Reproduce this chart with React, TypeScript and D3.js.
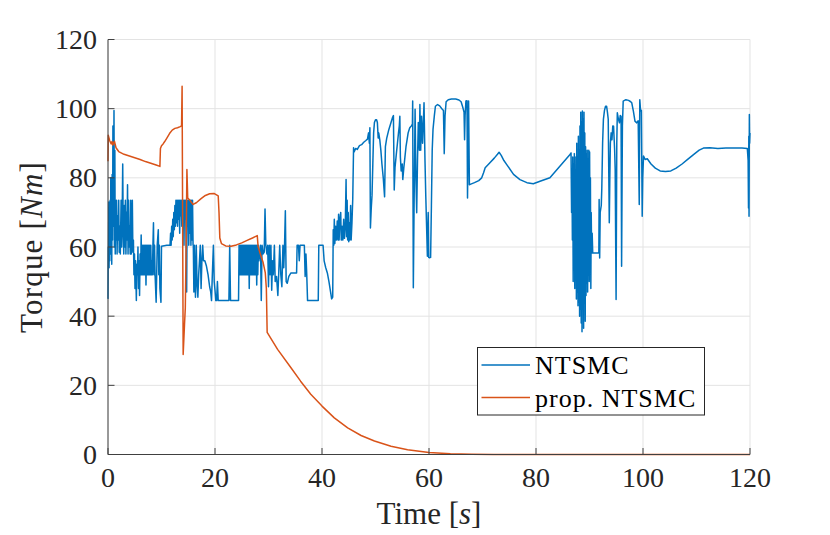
import * as d3 from "d3";
import { useEffect } from "react";

type Pt = [number, number];

// NTSMC torque (time s, torque Nm)
const ntsmc: Pt[] = [
  [0, 45], [0.05, 60], [0.1, 55], [0.15, 73], [0.2, 54], [0.28, 70], [0.33, 56], [0.4, 73.5], [0.45, 58],
  [0.52, 80], [0.58, 60], [0.65, 73.5], [0.7, 55], [0.78, 81], [0.85, 62], [0.92, 95], [0.97, 66],
  [1.05, 73.5], [1.12, 99.5], [1.2, 60], [1.28, 88], [1.35, 58], [1.42, 73.5], [1.5, 62],
  [1.6, 73.5], [1.7, 58], [1.8, 69], [1.9, 62], [2.0, 73.5], [2.1, 58.5], [2.2, 66], [2.3, 58],
  [2.45, 73.5], [2.55, 60], [2.65, 68], [2.75, 84], [2.85, 64], [2.95, 58], [3.05, 72], [3.15, 60],
  [3.25, 73.5], [3.35, 58], [3.45, 70], [3.55, 62], [3.65, 78], [3.75, 58], [3.85, 73.5], [3.95, 60],
  [4.05, 66], [4.15, 58], [4.25, 73.5], [4.35, 58], [4.45, 64], [4.55, 73.5], [4.65, 58.5], [4.75, 62],
  [4.85, 52], [4.95, 58],
  [5.05, 48], [5.15, 56], [5.3, 44.5], [5.4, 55], [5.5, 52], [5.6, 60], [5.7, 48], [5.8, 56], [5.9, 46],
  [6.0, 58], [6.1, 52], [6.2, 63.5], [6.3, 52], [6.4, 60.5], [6.5, 52], [6.6, 60.5], [6.7, 52], [6.8, 60.5],
  [6.9, 52], [7.0, 60.5], [7.1, 49], [7.2, 60.5], [7.3, 52], [7.4, 60.5], [7.5, 52], [7.6, 60.5], [7.7, 52],
  [7.8, 60.5], [7.9, 52], [8.0, 60.5], [8.1, 52], [8.2, 56], [8.3, 52], [8.4, 60.5], [8.5, 67], [8.6, 52],
  [8.7, 60.5], [8.8, 52], [9.0, 44], [9.1, 52], [9.2, 60.5], [9.4, 65], [9.5, 52], [9.6, 60.5], [9.7, 48],
  [9.9, 44], [10.0, 60.2], [11.0, 60.5], [11.6, 60.5],
  [11.7, 64], [11.8, 60.5], [11.9, 66], [12.0, 62], [12.1, 68], [12.2, 63], [12.3, 70], [12.4, 65],
  [12.5, 72], [12.6, 66], [12.7, 73.5], [12.8, 67],
  [12.9, 73.5], [13.0, 66], [13.1, 73.5], [13.2, 68], [13.3, 73.5], [13.4, 64], [13.5, 73.5], [13.6, 69],
  [13.7, 73.5], [13.8, 66], [13.9, 73.5], [14.0, 70], [14.1, 73.5], [14.2, 60.5], [14.3, 73.5], [14.4, 68],
  [14.5, 73.5], [14.6, 62], [14.7, 47], [14.8, 73.5], [14.9, 66], [15.0, 73.5], [15.1, 60.5], [15.2, 73.5],
  [15.3, 64], [15.4, 73.5], [15.5, 60.5], [15.6, 73.5], [15.7, 62], [15.8, 73.5], [15.9, 60.5],
  [15.95, 60.5], [16.05, 47], [16.15, 60.5], [16.25, 52], [16.35, 45.5], [16.5, 60.5], [16.65, 49],
  [16.8, 45.5], [16.95, 52], [17.1, 56], [17.25, 60.5], [17.4, 48], [17.55, 56], [17.7, 60.5], [17.85, 56],
  [18.1, 56], [18.4, 54.5], [18.7, 52], [19.0, 48.5], [19.2, 47], [19.35, 44.5], [19.5, 52], [19.7, 60.5],
  [19.85, 50], [20.0, 47.5], [20.15, 44.5], [20.3, 44.5], [20.45, 50], [20.6, 44.5],
  [22.6, 44.5], [22.75, 60.5], [22.9, 44.5], [24.4, 44.5],
  [24.5, 60.5], [24.6, 52], [24.7, 60.5], [24.8, 52], [24.9, 60.5], [25.0, 52], [25.1, 60.5], [25.2, 52],
  [25.3, 60.5], [25.4, 52], [25.5, 60.5], [25.6, 52], [25.7, 60.5], [25.8, 52], [25.9, 60.5], [26.0, 52],
  [26.1, 60.5], [26.2, 52], [26.3, 60.5], [26.4, 48], [26.5, 60.5], [26.6, 52], [26.7, 60.5], [26.8, 52],
  [26.9, 60.5], [27.0, 52], [27.1, 60.5], [27.2, 52], [27.3, 60.5], [27.4, 52], [27.5, 60.5], [27.6, 52],
  [27.7, 60.5], [27.8, 49], [27.9, 60.5], [28.0, 52], [28.1, 60.5], [28.2, 56],
  [28.35, 58], [28.5, 60.5], [28.65, 44.5], [28.8, 60.5], [29.0, 58], [29.2, 58.5], [29.35, 71],
  [29.5, 60.5], [29.7, 58],
  [29.85, 60.5], [30.0, 48.5], [30.15, 60.5], [30.3, 52], [30.45, 60.5], [30.6, 47.5], [30.75, 56],
  [30.9, 52], [31.1, 60.5], [31.25, 50], [31.5, 51.5], [31.75, 46], [31.9, 52], [32.1, 60.5], [32.3, 52],
  [32.5, 48.5], [32.7, 60.5], [32.85, 54], [33.0, 60.5], [33.15, 70.5], [33.3, 50], [33.5, 49.5],
  [33.8, 51.5], [34.2, 52.5], [34.8, 52.5], [35.25, 52.5], [35.35, 60.5], [35.6, 60.5], [35.75, 56],
  [35.9, 60.5], [36.7, 60.5], [36.85, 51.5], [37.0, 58], [37.15, 52], [37.3, 44.5], [39.3, 44.5],
  [39.4, 60.5], [40.2, 60.5], [40.4, 56], [40.7, 54], [41.0, 52.5], [41.3, 50], [41.6, 47], [41.8, 45],
  [42.0, 45.5], [42.1, 65], [42.2, 60.5], [42.3, 68], [42.4, 61], [42.55, 66], [42.7, 62], [42.85, 67.5],
  [43.0, 62], [43.1, 69.5], [43.2, 62], [43.35, 68], [43.5, 70], [43.6, 62], [43.75, 66], [43.9, 62],
  [44.05, 68], [44.2, 62.5], [44.35, 66], [44.5, 79.5], [44.6, 63], [44.7, 73.5], [44.8, 62], [44.9, 70],
  [45.0, 61.5], [45.1, 67], [45.2, 62], [45.35, 72], [45.45, 62], [45.6, 67], [45.75, 74], [45.9, 88.7],
  [46.0, 87.5], [46.3, 88.5], [46.6, 88.2], [47.0, 89.3], [47.4, 89.6], [47.8, 90.3], [48.2, 90.8],
  [48.5, 91.2], [48.7, 93], [48.85, 90], [48.95, 94.5], [49.05, 65.5], [49.2, 71], [49.35, 75], [49.5, 84],
  [49.65, 93], [49.8, 96], [50.0, 96.8], [50.2, 96.8], [50.35, 96], [50.5, 91.5], [50.6, 93], [50.8, 91],
  [51.0, 88], [51.2, 84], [51.45, 80], [51.7, 74.5], [51.85, 89], [52.1, 91.5], [52.5, 94], [52.9, 96],
  [53.2, 97.5], [53.35, 98], [53.5, 76.5], [53.65, 83], [53.9, 87], [54.1, 90], [54.3, 93], [54.45, 95],
  [54.55, 97.8], [54.65, 86], [54.8, 82], [55.0, 84], [55.1, 79.5], [55.3, 83], [55.5, 86], [55.7, 89],
  [55.9, 91], [56.1, 93], [56.4, 94.5], [56.7, 95], [56.9, 95.5],
  [56.95, 102.2], [57.07, 48.2], [57.2, 70], [57.4, 99.8], [57.55, 80], [57.7, 69.9], [57.85, 85],
  [58.0, 96], [58.2, 88], [58.3, 101.2], [58.45, 88], [58.6, 97.8], [58.8, 90], [59.07, 101.7],
  [59.25, 85], [59.4, 74.7], [59.55, 66], [59.7, 57.3], [59.85, 70], [59.95, 57], [60.1, 56.9],
  [60.3, 57], [60.45, 72], [60.6, 88], [60.75, 94], [61.0, 98], [61.2, 100.7], [61.6, 101.2],
  [62.0, 100.8], [62.4, 100], [62.7, 99.5], [62.85, 87], [63.0, 98], [63.2, 102], [63.6, 102.6],
  [64.2, 102.8], [65.0, 102.8], [65.6, 102.5], [66.0, 102], [66.3, 100.5], [66.55, 99], [66.65, 91],
  [66.75, 98], [66.9, 102.2], [67.1, 102.3], [67.2, 74.2], [67.3, 90], [67.4, 102.2], [67.55, 78],
  [67.7, 78.1], [68.5, 78.6], [69.3, 79.2], [69.85, 80], [70.2, 81.5], [70.5, 82.9], [71.3, 84.2],
  [72.2, 85.7], [72.8, 86.8], [73.1, 87.4], [73.5, 86.5], [74.0, 85.0], [74.5, 83.9], [75.8, 81.0],
  [77.0, 79.5], [78.3, 78.6], [79.5, 78.3], [80.75, 79.0], [82.6, 80.0], [84.5, 83.4], [86.4, 86.8],
  [86.55, 87.2], [86.65, 70], [86.72, 82], [86.8, 62], [86.87, 86], [86.95, 50], [87.02, 84], [87.1, 55],
  [87.17, 87], [87.25, 48], [87.32, 80], [87.4, 52], [87.47, 86], [87.55, 45], [87.62, 90], [87.7, 47],
  [87.77, 84], [87.85, 43], [87.92, 92], [88.0, 44], [88.07, 88], [88.15, 40], [88.22, 95], [88.3, 42],
  [88.37, 99], [88.45, 38], [88.52, 96], [88.6, 35.5], [88.67, 99.3], [88.75, 42], [88.82, 97],
  [88.9, 36.5], [88.97, 99], [89.05, 44], [89.12, 93], [89.2, 38.5], [89.27, 89], [89.35, 46], [89.42, 87],
  [89.5, 49.5], [89.57, 88], [89.65, 47], [89.72, 85], [89.8, 52], [89.87, 88], [89.95, 50], [90.02, 87.5],
  [90.1, 57], [90.17, 80], [90.25, 48], [90.32, 70], [90.4, 58.3], [90.5, 64], [90.6, 58.3], [90.7, 58.3],
  [91.0, 58.3], [91.5, 58.3], [91.75, 58.3],
  [91.8, 73.7], [91.9, 56.8], [92.0, 70], [92.2, 72], [92.3, 77], [92.45, 90], [92.6, 96.9], [92.8, 99.5],
  [93.0, 100.7], [93.2, 100.7], [93.35, 99], [93.5, 97], [93.7, 67], [93.8, 80], [93.9, 90], [94.05, 93],
  [94.2, 91], [94.35, 95], [94.5, 94.9], [94.7, 88], [94.8, 82.4], [94.97, 44.8], [95.1, 90], [95.2, 98.8],
  [95.4, 97], [95.6, 95.9], [95.75, 98], [95.9, 97.8], [96.0, 54.4], [96.15, 95], [96.3, 102.2],
  [96.8, 102.6], [97.3, 102.4], [97.7, 102], [97.9, 101.7], [98.2, 99.3], [98.5, 96.4], [98.8, 95.9],
  [99.1, 96.5], [99.3, 72.3], [99.4, 102.6], [99.55, 99.3], [99.7, 99.5], [99.85, 68.9], [99.95, 80],
  [100.1, 86.3], [100.4, 85.3],
  [100.8, 85.5], [101.5, 84.0], [102.3, 82.8], [103.2, 82.0], [104.2, 81.8], [105.2, 82.0], [106.2, 82.8],
  [107.3, 84.0], [108.4, 85.4], [109.5, 86.8], [110.5, 88.0], [111.3, 88.6], [112.5, 88.7], [114.0, 88.5],
  [115.5, 88.6], [117.0, 88.6], [118.5, 88.6], [119.5, 88.5], [119.65, 85], [119.72, 71.3], [119.78, 92],
  [119.82, 68.9], [119.88, 98.3], [119.93, 90], [120, 93],
];

// proposed NTSMC torque
const propNtsmc: Pt[] = [
  [0, 84.8], [0.05, 92.3], [0.3, 90.8], [0.6, 89.8], [0.75, 90.5], [0.9, 89.5], [1.2, 90.6], [1.5, 88.7],
  [2.0, 87.6], [3.0, 86.8], [4.0, 86.3], [5.0, 85.8], [6.0, 85.3], [7.0, 84.7], [8.0, 84.2], [9.0, 83.7],
  [9.7, 83.3], [9.8, 88.5], [10.0, 89.3], [10.3, 89.8], [10.6, 90.5], [11.0, 91.5], [11.5, 92.8],
  [12.0, 93.8], [12.5, 94.3], [13.0, 94.5], [13.5, 94.8], [13.75, 95], [13.85, 106.5], [14.05, 28.9],
  [14.3, 37.6], [14.45, 42.4], [14.6, 60], [14.75, 82.4], [14.9, 74.2], [15.3, 73.5], [15.9, 72.3],
  [16.5, 72.8], [17.4, 74.0], [18.2, 74.9], [19.0, 75.4], [19.8, 75.5], [20.6, 74.8], [20.75, 70],
  [20.9, 62.6], [21.2, 61.0], [22.0, 60.3], [23.0, 60.2], [24.0, 60.6], [25.0, 61.2], [26.0, 61.9],
  [27.0, 62.6], [27.9, 63.3], [28.05, 60.2], [28.5, 57.8], [29.0, 55.5], [29.4, 52.5], [29.6, 48],
  [29.75, 35.3], [31.7, 30.4], [34.2, 25.1], [36.0, 21.2], [37.9, 17.4], [40.0, 14.0], [42.3, 10.6],
  [44.8, 7.7], [47.3, 5.5], [49.8, 3.9], [52.9, 2.4], [56.0, 1.4], [60.0, 0.6], [64.0, 0.2], [68.0, 0.05],
  [72, 0], [120, 0],
];

const xTicks = [0, 20, 40, 60, 80, 100, 120];
const yTicks = [0, 20, 40, 60, 80, 100, 120];
const legendNames = ["NTSMC", "prop. NTSMC"];
const colors = ["#0072BD", "#D95319"];

const W = 830;
const H = 535;
const font = '"Liberation Serif", "Times New Roman", Times, "DejaVu Serif", serif';

export default function App() {
  useEffect(() => {
    document.body.style.margin = "0";
  }, []);

  const x = d3.scaleLinear().domain([0, 120]).range([108, 750]);
  const y = d3.scaleLinear().domain([0, 120]).range([454.5, 39.5]);

  const line = d3
    .line<Pt>()
    .x((d) => x(d[0]))
    .y((d) => y(d[1]));

  const series = [ntsmc, propNtsmc];
  const txt = { fontFamily: font };

  return (
    <div style={{ position: "absolute", left: 0, top: 0 }}>
      <svg width={W} height={H} style={{ display: "block", background: "#fff" }}>
        {/* grid */}
        {xTicks.map((t) => (
          <line key={"gx" + t} x1={x(t)} x2={x(t)} y1={y(0)} y2={y(120)} stroke="#e3e3e3" strokeWidth={1} />
        ))}
        {yTicks.map((t) => (
          <line key={"gy" + t} x1={x(0)} x2={x(120)} y1={y(t)} y2={y(t)} stroke="#e3e3e3" strokeWidth={1} />
        ))}

        {/* data */}
        {series.map((s, i) => (
          <path
            key={i}
            d={line(s) ?? ""}
            fill="none"
            stroke={colors[i]}
            strokeWidth={1.5}
            strokeLinejoin="round"
          />
        ))}

        {/* axes */}
        <line x1={x(0)} x2={x(0)} y1={y(0)} y2={y(120)} stroke="#404040" strokeWidth={1} />
        <line x1={x(0)} x2={x(120)} y1={y(0)} y2={y(0)} stroke="#404040" strokeWidth={1} />
        {xTicks.map((t) => (
          <g key={"tx" + t}>
            <line x1={x(t)} x2={x(t)} y1={y(0)} y2={y(0) - 6.5} stroke="#404040" strokeWidth={1} />
            <text x={x(t)} y={487} textAnchor="middle" style={txt} fontSize={28} fill="#262626">
              {t}
            </text>
          </g>
        ))}
        {yTicks.map((t) => (
          <g key={"ty" + t}>
            <line x1={x(0)} x2={x(0) + 6.5} y1={y(t)} y2={y(t)} stroke="#404040" strokeWidth={1} />
            <text x={97} y={y(t) + 9.5} textAnchor="end" style={txt} fontSize={28} fill="#262626">
              {t}
            </text>
          </g>
        ))}

        {/* axis labels */}
        <text x={429} y={524} textAnchor="middle" style={txt} fontSize={31} fill="#262626">
          Time [<tspan fontStyle="italic">s</tspan>]
        </text>
        <text
          transform={`translate(42,${(y(0) + y(120)) / 2}) rotate(-90)`}
          textAnchor="middle"
          style={{ ...txt, letterSpacing: 1.2 }}
          fontSize={31}
          fill="#262626"
        >
          Torque [<tspan fontStyle="italic">Nm</tspan>]
        </text>

        {/* legend */}
        <rect x={477.5} y={347.5} width={227} height={67.5} fill="#fff" stroke="#262626" strokeWidth={1} />
        {legendNames.map((n, i) => {
          const ly = 365 + i * 32.5;
          return (
            <g key={n}>
              <line x1={481.5} x2={530} y1={ly} y2={ly} stroke={colors[i]} strokeWidth={1.5} />
              <text x={535} y={ly + 9} style={{ ...txt, letterSpacing: 1 }} fontSize={26} fill="#000">
                {n}
              </text>
            </g>
          );
        })}
      </svg>
    </div>
  );
}
